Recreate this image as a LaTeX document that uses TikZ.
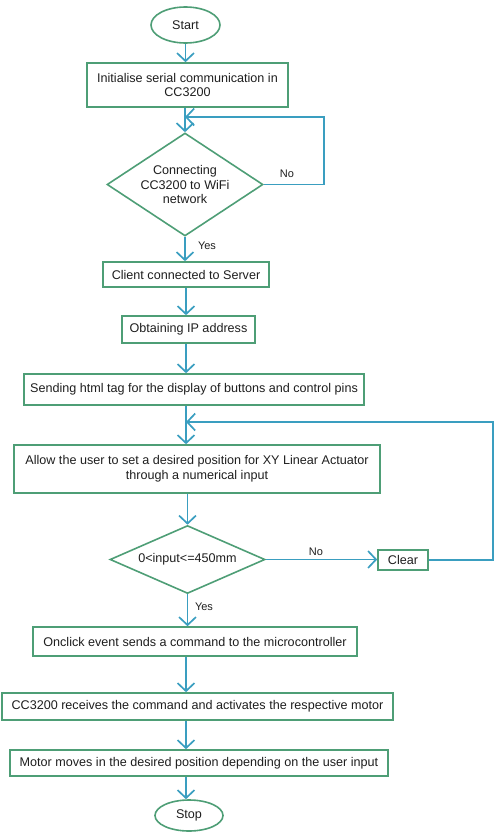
\documentclass[tikz,border=0pt]{standalone}
\usepackage{fontspec}
\setmainfont{Liberation Sans}
\usetikzlibrary{shapes.geometric,arrows.meta}
\definecolor{boxgreen}{RGB}{78,158,118}
\definecolor{arrblue}{RGB}{58,158,192}
\definecolor{txt}{RGB}{30,30,30}
\begin{document}
\begin{tikzpicture}[x=1pt,y=-1pt,
  every node/.style={font=\fontsize{12.6}{14.7}\selectfont, text=txt},
  proc/.style={draw=boxgreen, line width=1.6pt, rectangle, inner sep=0pt, align=center},
  term/.style={draw=boxgreen, line width=1.6pt, ellipse, inner sep=0pt},
  dec/.style={draw=boxgreen, line width=1.6pt, diamond, inner sep=0pt},
  lbl/.style={font=\fontsize{11}{13}\selectfont},
  arr/.style={draw=arrblue, line width=1.7pt, -{Straight Barb[length=8pt,width=17pt,line width=1.7pt]}},
  ln/.style={draw=arrblue, line width=1.7pt}]
\useasboundingbox (0,0) rectangle (495,832);
\coordinate (axis) at (186,0);
\node[term, minimum width=69pt, minimum height=36pt] (start) at (185.5,25) {Start};
\node[proc, minimum width=201pt, minimum height=44pt] (b1) at (187.5,85) {Initialise serial communication in\\CC3200};
\node[dec, minimum width=156pt, minimum height=103pt] (d1) at (185,184.5) {};
\node[align=center] (d1t) at (185,184.5) {Connecting\\CC3200 to WiFi\\network};
\node[proc, minimum width=166pt, minimum height=25pt] (b2) at (186,274.5) {Client connected to Server};
\node[proc, minimum width=133pt, minimum height=27pt] (b3) at (188.5,329.5) {Obtaining IP address};
\node[proc, minimum width=340pt, minimum height=31pt] (b4) at (194,389.5) {Sending html tag for the display of buttons and control pins};
\node[proc, minimum width=366pt, minimum height=48pt] (b5) at (197,469) {Allow the user to set a desired position for XY Linear Actuator\\through a numerical input};
\node[dec, minimum width=155pt, minimum height=68pt] (d2) at (187.5,559.5) {};
\node (d2t) at (187.5,559.5) {0<input<=450mm};
\node[proc, minimum width=50pt, minimum height=20pt] (clear) at (403,560) {Clear};
\node[proc, minimum width=324pt, minimum height=29pt] (b6) at (195,641.5) {Onclick event sends a command to the microcontroller};
\node[proc, minimum width=391pt, minimum height=27pt] (b7) at (197.5,706.5) {CC3200 receives the command and activates the respective motor};
\node[proc, minimum width=378pt, minimum height=26pt] (b8) at (199,763) {Motor moves in the desired position depending on the user input};
\node[term, minimum width=68pt, minimum height=31pt] (stop) at (189,815.5) {Stop};
% labels
\node[lbl] (no1) at (287,174) {No};
\node[lbl] (yes1) at (207,246) {Yes};
\node[lbl] (no2) at (316,552) {No};
\node[lbl] (yes2) at (204,607) {Yes};
% loop coordinates
\coordinate (loop1r) at (324,117);
\coordinate (loop1in) at (185,117);
\coordinate (loop2r) at (493,422);
\coordinate (loop2in) at (186,422);
% connectors
\draw[arr] (start.south) -- (start.south |- b1.north);
\draw[arr] (b1.south -| d1.north) -- (d1.north);
\draw[arr] (d1.east) -| (loop1r) -- (loop1in);
\draw[arr] (d1.south) -- (d1.south |- b2.north);
\draw[arr] (b2.south -| axis) -- (b3.north -| axis);
\draw[arr] (b3.south -| axis) -- (b4.north -| axis);
\draw[arr] (b4.south -| axis) -- (b5.north -| axis);
\draw[arr] (b5.south -| d2.north) -- (d2.north);
\draw[arr] (d2.east) -- (d2.east -| clear.west);
\draw[arr] (clear.east) -| (loop2r) -- (loop2in);
\draw[arr] (d2.south) -- (d2.south |- b6.north);
\draw[arr] (b6.south -| axis) -- (b7.north -| axis);
\draw[arr] (b7.south -| axis) -- (b8.north -| axis);
\draw[arr] (b8.south -| axis) -- (stop.north -| axis);
\end{tikzpicture}
\end{document}
